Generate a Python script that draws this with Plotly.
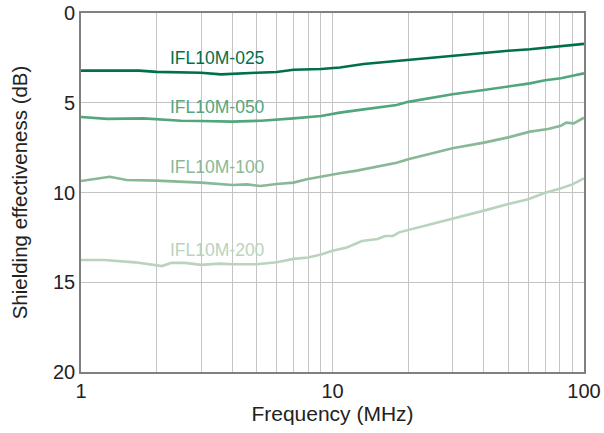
import plotly.graph_objects as go

# Data (frequency in MHz, shielding effectiveness in dB)
f025 = [1, 1.3, 1.7, 2, 2.5, 3, 3.6, 4, 5, 6, 7, 9, 10.7, 13.3, 18, 20, 25, 30, 40, 50, 61, 70, 81, 90, 100]
v025 = [3.21, 3.21, 3.21, 3.28, 3.31, 3.33, 3.42, 3.38, 3.33, 3.29, 3.16, 3.12, 3.04, 2.84, 2.67, 2.6, 2.47, 2.35, 2.2, 2.1, 2.02, 1.93, 1.83, 1.78, 1.72]

f050 = [1, 1.27, 1.77, 2, 2.5, 3, 4, 5.2, 6, 7, 9, 10.7, 13.3, 18, 20, 25, 30, 40, 50, 61, 70, 81, 90, 100]
v050 = [5.79, 5.9, 5.87, 5.93, 6.0, 6.02, 6.05, 6.0, 5.95, 5.87, 5.74, 5.55, 5.37, 5.13, 4.95, 4.72, 4.53, 4.29, 4.1, 3.92, 3.75, 3.64, 3.5, 3.36]

f100 = [1, 1.3, 1.52, 2, 3, 4, 4.57, 5.16, 6, 7, 7.9, 9.2, 10.7, 12.5, 15.5, 18, 20, 24.6, 30, 40, 50, 61, 72, 81, 85, 91, 100]
v100 = [9.36, 9.12, 9.3, 9.34, 9.45, 9.58, 9.55, 9.64, 9.53, 9.45, 9.26, 9.08, 8.93, 8.78, 8.52, 8.34, 8.15, 7.86, 7.54, 7.22, 6.93, 6.61, 6.46, 6.28, 6.11, 6.15, 5.83]

f200 = [1, 1.24, 1.64, 2, 2.1, 2.29, 2.59, 3, 3.56, 4, 5, 6, 7, 8, 9, 10, 11.4, 13.1, 15.1, 16.2, 17.4, 18.4, 20, 23.1, 26.6, 30, 40, 50, 60, 70, 80, 90, 100]
v200 = [13.76, 13.76, 13.89, 14.06, 14.1, 13.92, 13.92, 14.03, 13.96, 14.0, 14.0, 13.89, 13.7, 13.62, 13.45, 13.25, 13.06, 12.7, 12.59, 12.42, 12.42, 12.22, 12.09, 11.87, 11.67, 11.5, 11.01, 10.64, 10.38, 10.01, 9.79, 9.55, 9.21]

names = ["IFL10M-025", "IFL10M-050", "IFL10M-100", "IFL10M-200"]
series = [(f025, v025), (f050, v050), (f100, v100), (f200, v200)]
colors = ["#00704a", "#52a67c", "#88b996", "#b9d3bd"]
label_y = [2.5, 5.24, 8.58, 13.2]

x_ticks = [1, 10, 100]
x_minor = [2, 3, 4, 5, 6, 7, 8, 9, 20, 30, 40, 50, 60, 70, 80, 90]
y_ticks = [0, 5, 10, 15, 20]

FONT = "Liberation Sans, Arial, sans-serif"

fig = go.Figure()
for (fx, fy), name, c in zip(series, names, colors):
    fig.add_trace(go.Scatter(x=fx, y=fy, mode="lines", name=name,
                             line=dict(color=c, width=2.6), showlegend=False))

for name, c, ly in zip(names, colors, label_y):
    fig.add_annotation(x=0.542, y=ly, xref="x", yref="y", text=name, showarrow=False,
                       font=dict(family=FONT, size=17.5, color=c))

fig.update_layout(
    width=604, height=433,
    margin=dict(l=81, r=20, t=13, b=61),
    paper_bgcolor="white", plot_bgcolor="white",
    font=dict(family=FONT, color="#222222"),
)
fig.update_xaxes(
    type="log", range=[0, 2], tickvals=x_ticks, ticktext=[str(v) for v in x_ticks],
    showgrid=True, gridcolor="#c4c4c4", gridwidth=1,
    minor=dict(tickvals=x_minor, showgrid=True, gridcolor="#c4c4c4", gridwidth=1, ticks=""),
    showline=True, linecolor="#808080", linewidth=1.6, mirror=True,
    ticks="", tickfont=dict(size=20), zeroline=False, automargin=False,
    title=dict(text="Frequency (MHz)", font=dict(size=21), standoff=4),
)
fig.update_yaxes(
    range=[20, 0], tickvals=y_ticks, showgrid=True, gridcolor="#c4c4c4", gridwidth=1,
    showline=True, linecolor="#808080", linewidth=1.6, mirror=True,
    ticks="", tickfont=dict(size=20), zeroline=False, automargin=False,
    title=dict(text="Shielding effectiveness (dB)", font=dict(size=20.5), standoff=20),
)

fig.write_html("out.html", config={"displayModeBar": False},
               post_script="document.body.style.margin='0';")
